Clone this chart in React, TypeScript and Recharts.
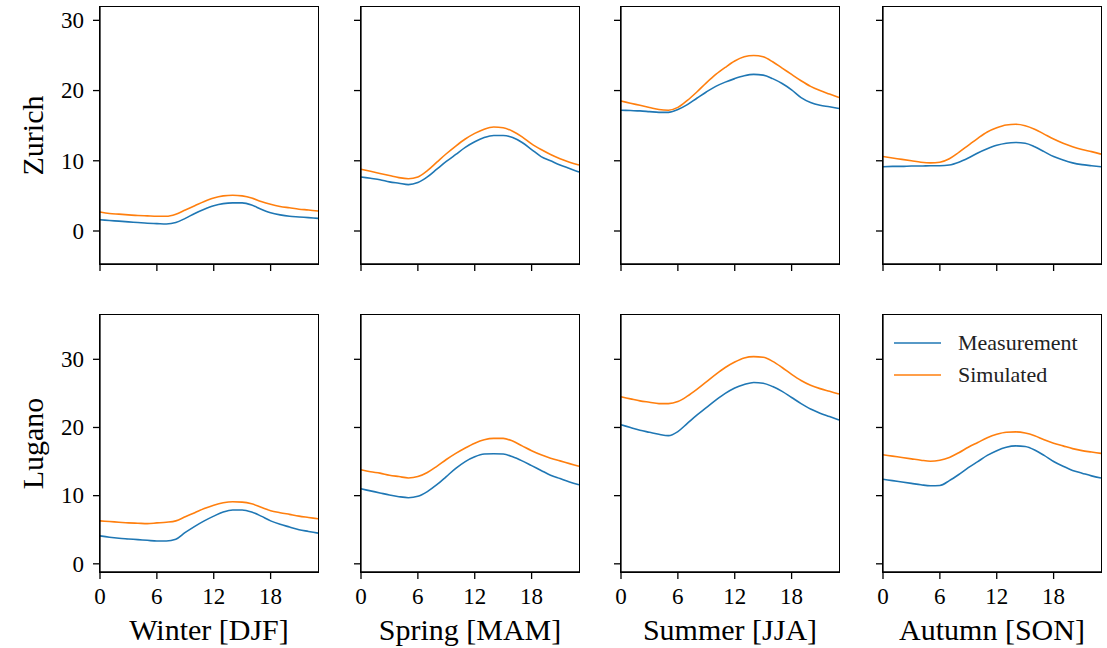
import { LineChart, Line, XAxis, YAxis, Legend } from "recharts";

const FONT = '"Liberation Serif", "Times New Roman", serif';
const BLUE = "#1f77b4";
const ORANGE = "#ff7f0e";

const hours = [0, 1, 2, 3, 4, 5, 6, 7, 8, 9, 10, 11, 12, 13, 14, 15, 16, 17, 18, 19, 20, 21, 22, 23];
const hourTicks = [0, 6, 12, 18];
const tempTicks = [0, 10, 20, 30];

const seasons = ["Winter [DJF]", "Spring [MAM]", "Summer [JJA]", "Autumn [SON]"];
const stations = ["Zurich", "Lugano"];

// Zurich, hourly mean temperature
const zurWinterMeas = [1.6, 1.5, 1.4, 1.3, 1.2, 1.1, 1.05, 1.0, 1.2, 1.8, 2.5, 3.1, 3.6, 3.9, 4.0, 4.0, 3.7, 3.1, 2.6, 2.3, 2.1, 2.0, 1.9, 1.8];
const zurWinterSim = [2.7, 2.5, 2.4, 2.3, 2.2, 2.15, 2.1, 2.1, 2.4, 3.0, 3.6, 4.2, 4.7, 5.0, 5.1, 5.0, 4.7, 4.2, 3.8, 3.5, 3.3, 3.1, 3.0, 2.85];
const zurSpringMeas = [7.7, 7.5, 7.3, 7.0, 6.8, 6.6, 6.9, 7.7, 8.8, 9.9, 10.9, 11.9, 12.7, 13.3, 13.6, 13.6, 13.3, 12.6, 11.6, 10.6, 10.0, 9.4, 8.9, 8.4];
const zurSpringSim = [8.8, 8.5, 8.2, 7.9, 7.6, 7.45, 7.7, 8.6, 9.8, 11.0, 12.1, 13.1, 13.9, 14.5, 14.8, 14.7, 14.2, 13.4, 12.4, 11.6, 10.9, 10.3, 9.8, 9.4];
const zurSummerMeas = [17.2, 17.15, 17.1, 17.0, 16.9, 16.9, 17.3, 18.0, 18.9, 19.8, 20.6, 21.2, 21.7, 22.1, 22.3, 22.2, 21.7, 21.0, 20.1, 19.0, 18.3, 17.9, 17.7, 17.45];
const zurSummerSim = [18.5, 18.2, 17.9, 17.6, 17.3, 17.2, 17.6, 18.6, 19.8, 21.1, 22.3, 23.3, 24.2, 24.8, 25.0, 24.8, 24.1, 23.2, 22.3, 21.4, 20.6, 20.0, 19.5, 19.0];
const zurAutumnMeas = [9.15, 9.2, 9.2, 9.25, 9.25, 9.3, 9.3, 9.4, 9.8, 10.4, 11.1, 11.7, 12.2, 12.5, 12.6, 12.5, 12.0, 11.3, 10.6, 10.1, 9.7, 9.45, 9.3, 9.15];
const zurAutumnSim = [10.6, 10.4, 10.2, 10.0, 9.8, 9.7, 9.8, 10.3, 11.2, 12.2, 13.2, 14.1, 14.7, 15.1, 15.2, 15.0, 14.5, 13.8, 13.1, 12.5, 12.0, 11.6, 11.3, 10.95];

// Lugano, hourly mean temperature
const lugWinterMeas = [4.1, 3.9, 3.75, 3.65, 3.55, 3.45, 3.35, 3.35, 3.6, 4.6, 5.5, 6.3, 7.0, 7.6, 7.9, 7.9, 7.6, 7.0, 6.3, 5.8, 5.4, 5.0, 4.75, 4.5];
const lugWinterSim = [6.3, 6.2, 6.1, 6.0, 5.95, 5.9, 6.0, 6.1, 6.3, 6.9, 7.5, 8.1, 8.6, 8.95, 9.1, 9.05, 8.8, 8.3, 7.8, 7.5, 7.25, 7.0, 6.8, 6.6];
const lugSpringMeas = [11.0, 10.7, 10.4, 10.1, 9.85, 9.7, 9.9, 10.6, 11.6, 12.8, 14.0, 15.0, 15.7, 16.1, 16.15, 16.1, 15.7, 15.1, 14.4, 13.7, 13.0, 12.5, 12.0, 11.6];
const lugSpringSim = [13.8, 13.5, 13.3, 13.0, 12.8, 12.6, 12.8, 13.4, 14.3, 15.3, 16.2, 17.0, 17.7, 18.2, 18.4, 18.4, 18.0, 17.3, 16.6, 16.0, 15.5, 15.1, 14.7, 14.3];
const lugSummerMeas = [20.4, 20.0, 19.6, 19.3, 19.0, 18.8, 19.4, 20.6, 21.8, 22.9, 24.0, 25.0, 25.8, 26.3, 26.6, 26.5, 26.0, 25.3, 24.4, 23.5, 22.7, 22.1, 21.6, 21.1];
const lugSummerSim = [24.5, 24.2, 23.9, 23.7, 23.5, 23.5, 23.8, 24.6, 25.6, 26.7, 27.8, 28.8, 29.6, 30.2, 30.4, 30.3, 29.7, 28.8, 27.8, 26.9, 26.2, 25.7, 25.3, 24.9];
const lugAutumnMeas = [12.4, 12.2, 12.0, 11.8, 11.6, 11.45, 11.5, 12.2, 13.1, 14.1, 15.0, 15.9, 16.6, 17.1, 17.3, 17.2, 16.7, 15.9, 15.0, 14.3, 13.7, 13.3, 12.9, 12.6];
const lugAutumnSim = [16.0, 15.8, 15.6, 15.4, 15.2, 15.05, 15.2, 15.6, 16.3, 17.1, 17.8, 18.5, 19.0, 19.3, 19.35, 19.2, 18.8, 18.2, 17.7, 17.3, 16.9, 16.6, 16.4, 16.2];

const measRows = [
  [zurWinterMeas, zurSpringMeas, zurSummerMeas, zurAutumnMeas],
  [lugWinterMeas, lugSpringMeas, lugSummerMeas, lugAutumnMeas],
];
const simRows = [
  [zurWinterSim, zurSpringSim, zurSummerSim, zurAutumnSim],
  [lugWinterSim, lugSpringSim, lugSummerSim, lugAutumnSim],
];

const yDomains: [number, number][] = [
  [-4.7, 31.9],
  [-1.2, 36.5],
];

const PLOT_LEFT = [100, 361, 621, 883];
const PLOT_TOP = [7, 315];
const PLOT_W = 218;
const PLOT_H = 257;

const axisStroke = { stroke: "#000", strokeWidth: 1.3 };

function XTick({ x, y, payload, show }: any) {
  if (!show) return null;
  return (
    <text x={x} y={y} dy="0.71em" textAnchor="middle" style={{ fill: "#000", fontSize: 23, fontFamily: FONT }}>
      {payload.value}
    </text>
  );
}

function YTick({ x, y, payload, show }: any) {
  if (!show) return null;
  return (
    <text x={x} y={y} dy="0.34em" textAnchor="end" style={{ fill: "#000", fontSize: 23, fontFamily: FONT }}>
      {payload.value}
    </text>
  );
}

function LegendBox({ payload }: any) {
  return (
    <div style={{ fontFamily: FONT, fontSize: 22, color: "#222" }}>
      {(payload || []).map((p: any) => (
        <div key={p.value} style={{ display: "flex", alignItems: "center", height: 32 }}>
          <svg width={47} height={4} style={{ marginRight: 17 }}>
            <line x1={0} y1={2} x2={47} y2={2} stroke={p.color} strokeWidth={1.6} />
          </svg>
          <span>{p.value}</span>
        </div>
      ))}
    </div>
  );
}

function Panel({ row, col }: { row: number; col: number }) {
  const meas = measRows[row][col];
  const sim = simRows[row][col];
  const data = hours.map((h, i) => ({ h, meas: meas[i], sim: sim[i] }));
  const yW = col === 0 ? 100 : 60;
  const xH = row === 1 ? 74 : 10;
  const width = yW + PLOT_W + 5;
  const height = 5 + PLOT_H + xH;
  const domain = yDomains[row];

  return (
    <>
      <div style={{ position: "absolute", left: PLOT_LEFT[col] - yW, top: PLOT_TOP[row] - 5 }}>
        <LineChart width={width} height={height} data={data} margin={{ top: 5, right: 5, left: 0, bottom: 0 }}>
          <XAxis
            dataKey="h"
            type="number"
            domain={[0, 23]}
            ticks={hourTicks}
            height={xH}
            tickSize={7}
            tickMargin={9}
            axisLine={axisStroke}
            tickLine={axisStroke}
            tick={<XTick show={row === 1} />}
            label={
              row === 1
                ? { value: seasons[col], position: "insideBottom", offset: 6, fill: "#000", fontSize: 30, fontFamily: FONT }
                : undefined
            }
          />
          <YAxis
            type="number"
            domain={domain}
            ticks={tempTicks}
            width={yW}
            tickSize={7}
            tickMargin={9}
            axisLine={axisStroke}
            tickLine={axisStroke}
            tick={<YTick show={col === 0} />}
            label={
              col === 0
                ? {
                    value: stations[row],
                    angle: -90,
                    position: "insideLeft",
                    offset: 32,
                    fill: "#000",
                    fontSize: 30,
                    fontFamily: FONT,
                    style: { textAnchor: "middle" },
                  }
                : undefined
            }
          />
          <Line type="monotone" dataKey="meas" name="Measurement" stroke={BLUE} strokeWidth={1.6} dot={false} isAnimationActive={false} />
          <Line type="monotone" dataKey="sim" name="Simulated" stroke={ORANGE} strokeWidth={1.6} dot={false} isAnimationActive={false} />
          {row === 1 && col === 3 && (
            <Legend
              layout="vertical"
              align="center"
              verticalAlign="middle"
              content={<LegendBox />}
              wrapperStyle={{ left: 71, top: 17, width: "auto", height: "auto" }}
            />
          )}
        </LineChart>
      </div>
      {/* frame around the plot area, like matplotlib spines */}
      <div
        style={{
          position: "absolute",
          left: PLOT_LEFT[col] - 0.65,
          top: PLOT_TOP[row] - 0.65,
          width: PLOT_W + 1.3,
          height: PLOT_H + 1.3,
          border: "1.3px solid #000",
          boxSizing: "border-box",
          pointerEvents: "none",
        }}
      />
    </>
  );
}

export default function App() {
  return (
    <div style={{ position: "absolute", left: 0, top: 0, width: 1107, height: 648, background: "#fff" }}>
      {[0, 1].map((row) => [0, 1, 2, 3].map((col) => <Panel key={`${row}-${col}`} row={row} col={col} />))}
    </div>
  );
}
